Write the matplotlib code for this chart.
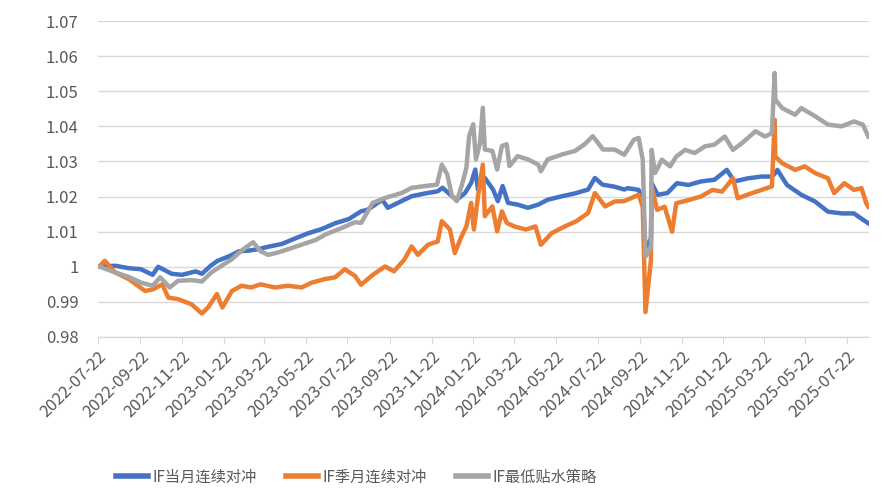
import pandas as pd
import matplotlib
matplotlib.use("Agg")
import matplotlib.pyplot as plt

plt.rcParams['font.family'] = ['Noto Sans CJK SC', 'DejaVu Sans']

# IF当月连续对冲
blue_dates = ['2022-07-22', '2022-07-25', '2022-08-16', '2022-09-05', '2022-09-23', '2022-10-10', '2022-10-18',
              '2022-11-07', '2022-11-22', '2022-12-12', '2022-12-21', '2023-01-03', '2023-01-13', '2023-01-30',
              '2023-02-13', '2023-02-27', '2023-03-13', '2023-03-28', '2023-04-17', '2023-05-08', '2023-05-25',
              '2023-06-15', '2023-07-04', '2023-07-24', '2023-08-11', '2023-08-21', '2023-09-11', '2023-09-19',
              '2023-10-09', '2023-10-24', '2023-11-13', '2023-12-01', '2023-12-08', '2023-12-22', '2023-12-29',
              '2024-01-10', '2024-01-19', '2024-01-25', '2024-01-29', '2024-02-05', '2024-02-08', '2024-02-20',
              '2024-02-27', '2024-03-05', '2024-03-13', '2024-03-27', '2024-04-11', '2024-04-26', '2024-05-10',
              '2024-05-31', '2024-06-19', '2024-07-08', '2024-07-18', '2024-07-29', '2024-08-16', '2024-08-30',
              '2024-09-04', '2024-09-20', '2024-09-26', '2024-09-30', '2024-10-08', '2024-10-09', '2024-10-18',
              '2024-11-01', '2024-11-15', '2024-12-02', '2024-12-20', '2025-01-09', '2025-01-27', '2025-02-07',
              '2025-02-27', '2025-03-19', '2025-04-03', '2025-04-07', '2025-04-11', '2025-04-25', '2025-05-16',
              '2025-06-05', '2025-06-24', '2025-07-14', '2025-08-01', '2025-08-15', '2025-08-22']
blue_vals = [1.0000, 1.0000, 1.0003, 0.9996, 0.9993, 0.9977, 1.0000,
             0.9980, 0.9977, 0.9987, 0.9980, 1.0003, 1.0017, 1.0030,
             1.0044, 1.0046, 1.0050, 1.0057, 1.0065, 1.0082, 1.0095,
             1.0108, 1.0124, 1.0136, 1.0158, 1.0163, 1.0191, 1.0168,
             1.0187, 1.0201, 1.0209, 1.0215, 1.0225, 1.0201, 1.0191,
             1.0210, 1.0239, 1.0277, 1.0220, 1.0239, 1.0253, 1.0220,
             1.0187, 1.0230, 1.0182, 1.0177, 1.0168, 1.0177, 1.0191,
             1.0201, 1.0209, 1.0220, 1.0253, 1.0234, 1.0228, 1.0220,
             1.0224, 1.0219, 1.0190, 1.0050, 1.0080, 1.0238, 1.0205,
             1.0210, 1.0238, 1.0233, 1.0243, 1.0248, 1.0276, 1.0243,
             1.0252, 1.0257, 1.0257, 1.0265, 1.0276, 1.0233, 1.0205,
             1.0186, 1.0157, 1.0152, 1.0152, 1.0133, 1.0124]

# IF季月连续对冲
orange_dates = ['2022-07-22', '2022-07-25', '2022-08-01', '2022-08-16', '2022-09-05', '2022-09-29', '2022-10-11',
                '2022-10-24', '2022-11-02', '2022-11-16', '2022-12-06', '2022-12-21', '2022-12-30', '2023-01-12',
                '2023-01-20', '2023-02-03', '2023-02-17', '2023-03-03', '2023-03-17', '2023-04-07', '2023-04-26',
                '2023-05-16', '2023-05-31', '2023-06-19', '2023-07-04', '2023-07-18', '2023-08-02', '2023-08-11',
                '2023-08-28', '2023-09-15', '2023-09-28', '2023-10-13', '2023-10-24', '2023-11-02', '2023-11-17',
                '2023-12-01', '2023-12-07', '2023-12-19', '2023-12-26', '2024-01-05', '2024-01-12', '2024-01-19',
                '2024-01-23', '2024-01-29', '2024-02-05', '2024-02-08', '2024-02-19', '2024-02-26', '2024-03-04',
                '2024-03-11', '2024-03-22', '2024-04-08', '2024-04-22', '2024-04-30', '2024-05-16', '2024-06-04',
                '2024-06-21', '2024-07-08', '2024-07-18', '2024-08-02', '2024-08-16', '2024-08-30', '2024-09-20',
                '2024-09-26', '2024-09-30', '2024-10-08', '2024-10-09', '2024-10-17', '2024-10-28', '2024-11-08',
                '2024-11-14', '2024-12-02', '2024-12-20', '2025-01-06', '2025-01-20', '2025-02-05', '2025-02-12',
                '2025-03-05', '2025-03-19', '2025-04-03', '2025-04-07', '2025-04-08', '2025-04-18', '2025-05-07',
                '2025-05-21', '2025-06-05', '2025-06-24', '2025-07-03', '2025-07-18', '2025-08-01', '2025-08-12',
                '2025-08-19', '2025-08-22']
orange_vals = [1.0000, 1.0003, 1.0017, 0.9984, 0.9965, 0.9931, 0.9936,
               0.9950, 0.9912, 0.9908, 0.9893, 0.9867, 0.9884, 0.9922,
               0.9884, 0.9931, 0.9946, 0.9941, 0.9950, 0.9941, 0.9946,
               0.9941, 0.9955, 0.9965, 0.9970, 0.9993, 0.9974, 0.9949,
               0.9977, 1.0001, 0.9987, 1.0020, 1.0058, 1.0034, 1.0063,
               1.0072, 1.0130, 1.0106, 1.0039, 1.0087, 1.0115, 1.0182,
               1.0106, 1.0201, 1.0291, 1.0144, 1.0172, 1.0101, 1.0158,
               1.0125, 1.0115, 1.0106, 1.0115, 1.0063, 1.0096, 1.0115,
               1.0130, 1.0153, 1.0210, 1.0172, 1.0186, 1.0187, 1.0205,
               1.0171, 0.9871, 1.0019, 1.0229, 1.0162, 1.0171, 1.0100,
               1.0181, 1.0190, 1.0200, 1.0219, 1.0214, 1.0252, 1.0195,
               1.0210, 1.0219, 1.0229, 1.0419, 1.0314, 1.0295, 1.0276,
               1.0286, 1.0267, 1.0252, 1.0210, 1.0238, 1.0219, 1.0224,
               1.0181, 1.0171]

# IF最低贴水策略
gray_dates = ['2022-07-22', '2022-07-25', '2022-08-16', '2022-09-05', '2022-09-23', '2022-10-10', '2022-10-21',
              '2022-11-04', '2022-11-16', '2022-12-06', '2022-12-21', '2023-01-04', '2023-01-19', '2023-02-03',
              '2023-02-17', '2023-03-06', '2023-03-17', '2023-03-28', '2023-04-12', '2023-04-26', '2023-05-16',
              '2023-06-05', '2023-06-21', '2023-07-13', '2023-08-02', '2023-08-11', '2023-08-28', '2023-09-15',
              '2023-10-09', '2023-10-24', '2023-11-13', '2023-11-30', '2023-12-07', '2023-12-15', '2023-12-22',
              '2023-12-29', '2024-01-05', '2024-01-12', '2024-01-16', '2024-01-22', '2024-01-26', '2024-02-01',
              '2024-02-05', '2024-02-08', '2024-02-19', '2024-02-26', '2024-03-04', '2024-03-11', '2024-03-15',
              '2024-03-27', '2024-04-11', '2024-04-26', '2024-04-30', '2024-05-10', '2024-05-31', '2024-06-19',
              '2024-07-03', '2024-07-15', '2024-07-30', '2024-08-16', '2024-08-30', '2024-09-13', '2024-09-20',
              '2024-09-26', '2024-09-30', '2024-10-08', '2024-10-09', '2024-10-14', '2024-10-24', '2024-11-05',
              '2024-11-14', '2024-11-27', '2024-12-11', '2024-12-26', '2025-01-09', '2025-01-24', '2025-02-05',
              '2025-02-18', '2025-03-10', '2025-03-24', '2025-04-03', '2025-04-07', '2025-04-08', '2025-04-18',
              '2025-05-07', '2025-05-16', '2025-06-05', '2025-06-24', '2025-07-14', '2025-08-01', '2025-08-14',
              '2025-08-22']
gray_vals = [1.0000, 1.0000, 0.9984, 0.9971, 0.9955, 0.9946, 0.9970,
             0.9941, 0.9960, 0.9962, 0.9958, 0.9984, 1.0003, 1.0022,
             1.0046, 1.0070, 1.0044, 1.0034, 1.0041, 1.0050, 1.0063,
             1.0076, 1.0093, 1.0110, 1.0127, 1.0125, 1.0182, 1.0196,
             1.0210, 1.0225, 1.0230, 1.0234, 1.0291, 1.0263, 1.0201,
             1.0187, 1.0230, 1.0282, 1.0372, 1.0406, 1.0306, 1.0353,
             1.0453, 1.0334, 1.0330, 1.0277, 1.0344, 1.0349, 1.0287,
             1.0315, 1.0306, 1.0291, 1.0272, 1.0306, 1.0320, 1.0330,
             1.0349, 1.0372, 1.0334, 1.0334, 1.0319, 1.0362, 1.0367,
             1.0305, 1.0029, 1.0057, 1.0333, 1.0267, 1.0305, 1.0286,
             1.0314, 1.0333, 1.0324, 1.0343, 1.0348, 1.0371, 1.0333,
             1.0352, 1.0386, 1.0371, 1.0381, 1.0552, 1.0476, 1.0452,
             1.0433, 1.0452, 1.0429, 1.0405, 1.0400, 1.0414, 1.0405,
             1.0371]

tick_dates = ['2022-07-22', '2022-09-22', '2022-11-22', '2023-01-22', '2023-03-22', '2023-05-22', '2023-07-22',
              '2023-09-22', '2023-11-22', '2024-01-22', '2024-03-22', '2024-05-22', '2024-07-22', '2024-09-22',
              '2024-11-22', '2025-01-22', '2025-03-22', '2025-05-22', '2025-07-22']
y_ticks = [0.98, 0.99, 1.00, 1.01, 1.02, 1.03, 1.04, 1.05, 1.06, 1.07]
y_labels = ['0.98', '0.99', '1', '1.01', '1.02', '1.03', '1.04', '1.05', '1.06', '1.07']

fig = plt.figure(figsize=(8.85, 4.98), dpi=100)
ax = fig.add_axes([0.1107, 0.3233, 0.8712, 0.6345])

ax.plot(pd.to_datetime(blue_dates), blue_vals, color='#4472C4', lw=3.2, label='IF当月连续对冲',
        solid_joinstyle='round')
ax.plot(pd.to_datetime(orange_dates), orange_vals, color='#ED7D31', lw=3.2, label='IF季月连续对冲',
        solid_joinstyle='round')
ax.plot(pd.to_datetime(gray_dates), gray_vals, color='#A5A5A5', lw=3.2, label='IF最低贴水策略',
        solid_joinstyle='round')

ax.set_ylim(0.98, 1.07)
ax.set_xlim(pd.Timestamp('2022-07-22'), pd.Timestamp('2025-08-23'))
ax.set_yticks(y_ticks)
ax.set_yticklabels(y_labels)
ax.yaxis.grid(True, color='#D9D9D9', lw=1)
ax.set_axisbelow(True)

ticks = pd.to_datetime(tick_dates)
ax.set_xticks(ticks)
ax.set_xticklabels(tick_dates, rotation=45, ha='right', rotation_mode='anchor')

for s in ['top', 'right', 'left']:
    ax.spines[s].set_visible(False)
ax.spines['bottom'].set_color('#D9D9D9')
ax.spines['bottom'].set_linewidth(1)
ax.tick_params(axis='y', length=0, pad=14, labelsize=12, labelcolor='#595959')
ax.tick_params(axis='x', length=5, color='#D9D9D9', pad=3, labelsize=12, labelcolor='#595959')

leg = fig.legend(loc='center', bbox_to_anchor=(0.403, 0.042), ncol=3, frameon=False,
                 fontsize=11, labelcolor='#595959', handlelength=2.1, handletextpad=0.3,
                 columnspacing=1.9)
for h in leg.get_lines():
    h.set_linewidth(4)

fig.savefig('out.png', dpi=100)
